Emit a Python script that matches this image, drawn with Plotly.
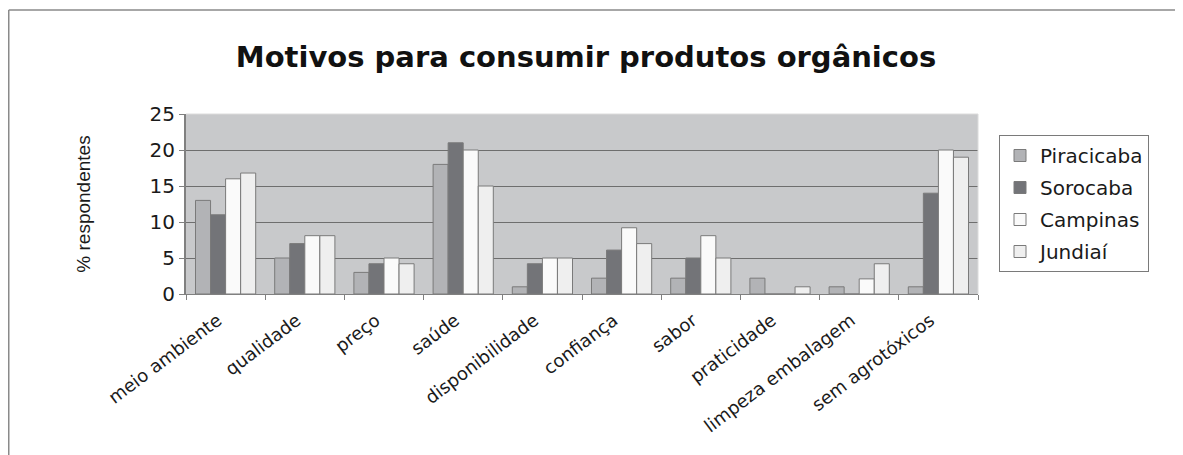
import plotly.graph_objects as go

categories = ["meio ambiente", "qualidade", "preço", "saúde", "disponibilidade",
              "confiança", "sabor", "praticidade", "limpeza embalagem", "sem agrotóxicos"]
piracicaba = [13, 5, 3, 18, 1, 2.2, 2.2, 2.2, 1, 1]
sorocaba = [11, 7, 4.2, 21, 4.2, 6.1, 5, 0, 0, 14]
campinas = [16, 8.1, 5, 20, 5, 9.2, 8.1, 0, 2.1, 20]
jundiai = [16.8, 8.1, 4.2, 15, 5, 7, 5, 1, 4.2, 19]
series_names = ["Piracicaba", "Sorocaba", "Campinas", "Jundiaí"]
series_colors = ["#b2b3b6", "#737478", "#fafafa", "#efefef"]
y_ticks = [0, 5, 10, 15, 20, 25]

W, H = 1175, 447          # page body has an 8px margin
L, T, PW, PH = 178, 106, 792, 180
R = W - L - PW
B = H - T - PH

fig = go.Figure()
for name, vals, col in zip(series_names, [piracicaba, sorocaba, campinas, jundiai], series_colors):
    fig.add_trace(go.Bar(
        x=categories, y=vals, name=name, legendgroup=name,
        marker=dict(color=col, line=dict(color="#7a7a7a", width=1)),
    ))

sans = "DejaVu Sans, Liberation Sans, Arial, sans-serif"
fig.update_layout(
    width=W, height=H,
    margin=dict(l=L, r=R, t=T, b=B, autoexpand=False),
    paper_bgcolor="white", plot_bgcolor="#c8c9cb",
    font=dict(family=sans, color="#1a1a1a"),
    barmode="group", bargap=0.24, bargroupgap=0,
    title=dict(text="<b>Motivos para consumir produtos orgânicos</b>",
               x=578 / W, xanchor="center", y=1 - 49 / H, yanchor="middle",
               font=dict(size=29, color="#111111", family=sans)),
    legend=dict(x=(991 - L) / PW, xanchor="left", y=(T + PH - 127) / PH, yanchor="top",
                bgcolor="white", bordercolor="#7a7a7a", borderwidth=1,
                font=dict(size=20, color="#1a1a1a"), tracegroupgap=3,
                itemclick=False),
    showlegend=True,
)
fig.update_xaxes(
    tickangle=-37, tickfont=dict(size=18), ticks="outside", tickson="boundaries",
    ticklen=5, tickcolor="#808080", showline=True, linecolor="#808080", linewidth=1,
    showgrid=False, ticklabelstandoff=8, ticklabelshift=-8, automargin=False,
)
fig.update_yaxes(
    range=[0, 25], tickvals=y_ticks, tickfont=dict(size=20), ticks="outside",
    ticklen=5, tickcolor="#808080", showline=True, linecolor="#808080", linewidth=2,
    showgrid=True, gridcolor="#6e6e6e", gridwidth=1, zeroline=False, automargin=False,
    title=dict(text="% respondentes", standoff=54,
               font=dict(size=19, family="Liberation Sans Narrow, Arial Narrow, Liberation Sans, sans-serif")),
)
# light border on top and right of plot area
fig.add_shape(type="line", xref="x domain", yref="y domain", x0=0, x1=1, y0=1, y1=1,
              line=dict(color="#dcdcdc", width=1))
fig.add_shape(type="line", xref="x domain", yref="y domain", x0=1, x1=1, y0=0, y1=1,
              line=dict(color="#dcdcdc", width=1))
# outer frame (top and left)
fy = (T + PH - 2) / PH
fx0 = (0.75 - L) / PW
fig.add_shape(type="line", xref="paper", yref="paper",
              x0=fx0, x1=(W - L) / PW, y0=fy, y1=fy,
              line=dict(color="#8a8a8a", width=1.5))
fig.add_shape(type="line", xref="paper", yref="paper",
              x0=fx0, x1=fx0, y0=fy, y1=-B / PH,
              line=dict(color="#8a8a8a", width=1.5))

fig.write_html("out.html")
